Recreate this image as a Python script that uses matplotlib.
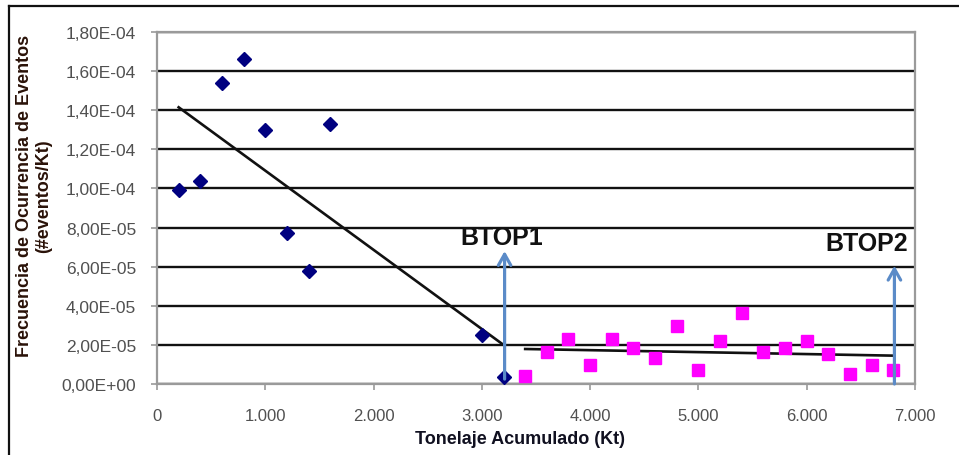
import matplotlib.pyplot as plt
from matplotlib.ticker import FuncFormatter, MultipleLocator
from matplotlib.lines import Line2D

plt.rcParams['font.family'] = ['Liberation Sans', 'DejaVu Sans']

# tramo 1 (rombos azules)
x1 = [200, 400, 600, 800, 1000, 1200, 1400, 1600, 3000, 3200]
y1 = [9.9e-5, 1.04e-4, 1.54e-4, 1.66e-4, 1.30e-4, 7.7e-5, 5.8e-5, 1.33e-4, 2.5e-5, 3.6e-6]

# tramo 2 (cuadrados rosados)
x2 = [3400, 3600, 3800, 4000, 4200, 4400, 4600, 4800, 5000, 5200,
      5400, 5600, 5800, 6000, 6200, 6400, 6600, 6800]
y2 = [4.2e-6, 1.62e-5, 2.3e-5, 9.9e-6, 2.3e-5, 1.84e-5, 1.31e-5, 2.98e-5, 7.3e-6, 2.22e-5,
      3.62e-5, 1.62e-5, 1.84e-5, 2.22e-5, 1.53e-5, 5.1e-6, 9.9e-6, 7.3e-6]

# lineas de tendencia (extremos)
trend1_x = [200, 3200]
trend1_y = [1.415e-4, 2.0e-5]
trend2_x = [3400, 6800]
trend2_y = [1.79e-5, 1.45e-5]

# flechas BTOP
btop_labels = ['BTOP1', 'BTOP2']
btop_x = [3210, 6810]
btop_bottom = [2.5e-6, 0.0]
btop_top = [6.8e-5, 6.05e-5]
btop_text_x = [3183, 6552]
btop_text_y = [7.52e-5, 7.21e-5]

W, H = 959, 456
fig = plt.figure(figsize=(W / 100, H / 100), dpi=100)
ax = fig.add_axes([157 / W, 1 - 385 / H, (915 - 157) / W, (385 - 33) / H])

ax.set_xlim(0, 7000)
ax.set_ylim(0, 1.8e-4)
ax.xaxis.set_major_locator(MultipleLocator(1000))
ax.yaxis.set_major_locator(MultipleLocator(2e-5))

ax.yaxis.set_major_formatter(FuncFormatter(lambda v, p: format(v, '.2E').replace('.', ',')))
ax.xaxis.set_major_formatter(FuncFormatter(lambda v, p: f"{int(round(v)):,}".replace(',', '.')))

ax.grid(axis='y', color='#111111', linewidth=1.7, zorder=0)
for s in ax.spines.values():
    s.set_color('#9a9a9a')
    s.set_linewidth(1.6)
ax.tick_params(axis='both', direction='out', color='#9a9a9a', width=1.2, length=4)
ax.tick_params(axis='y', labelsize=12.5, labelcolor='#505050', pad=11)
ax.tick_params(axis='x', labelsize=12, labelcolor='#505050', pad=13)

ax.plot(trend1_x, trend1_y, color='#111111', linewidth=1.9, zorder=3)
ax.plot(trend2_x, trend2_y, color='#111111', linewidth=1.9, zorder=3)

ax.plot(x1, y1, linestyle='none', marker='D', markersize=7.5, color='#000080', zorder=4)
ax.plot(x2, y2, linestyle='none', marker='s', markersize=9.2, color='#ff00ff', zorder=4)

for lab, bx, b0, b1, tx, ty in zip(btop_labels, btop_x, btop_bottom, btop_top, btop_text_x, btop_text_y):
    ax.annotate('', xy=(bx, b1), xytext=(bx, b0),
                arrowprops=dict(arrowstyle='->,head_length=0.8,head_width=0.45',
                                color='#5b8bc8', linewidth=2.3, shrinkA=0, shrinkB=0),
                zorder=5)
    ax.text(tx, ty, lab, ha='center', va='center', fontsize=18, fontweight='bold',
            color='#111111', zorder=6)

fig.text(34 / W, 1 - 196 / H, 'Frecuencia de Ocurrencia de Eventos\n(#eventos/Kt)',
         rotation=90, ha='center', va='center', multialignment='center',
         fontsize=13, fontweight='bold', color='#2a1208', linespacing=1.1)
fig.text(520 / W, 1 - 440 / H, 'Tonelaje Acumulado (Kt)', ha='center', va='center',
         fontsize=13, fontweight='bold', color='#101020')

# marco exterior
fig.add_artist(Line2D([9 / W, 1.0], [1 - 7 / H, 1 - 7 / H], color='#111111', linewidth=1.6))
fig.add_artist(Line2D([9 / W, 9 / W], [0.0, 1 - 7 / H], color='#111111', linewidth=1.6))

fig.savefig('out.png', dpi=100)
